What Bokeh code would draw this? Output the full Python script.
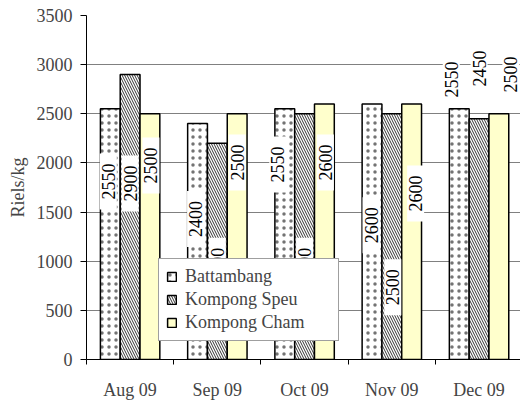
from math import pi
from bokeh.plotting import figure
from bokeh.models import (Range1d, FixedTicker, Legend, LegendItem, ColumnDataSource)
from bokeh.transform import dodge
from bokeh.core.properties import value
from bokeh.embed import file_html
from bokeh.resources import INLINE

# ---------------- data ----------------
months = ["Aug 09", "Sep 09", "Oct 09", "Nov 09", "Dec 09"]
series = ["Battambang", "Kompong Speu", "Kompong Cham"]
battambang = [2550, 2400, 2550, 2600, 2550]
kompong_speu = [2900, 2200, 2500, 2500, 2450]
kompong_cham = [2500, 2500, 2600, 2600, 2500]
y_ticks = [0, 500, 1000, 1500, 2000, 2500, 3000, 3500]

# placement of the (manually placed) value labels, in Riels/kg
label_at_battambang = [1810, 1430, 1985, 1365, 2850]
label_at_kompong_speu = [1790, 955, 955, 735, 2960]
label_at_kompong_cham = [1975, 2005, 2005, 1690, 2900]
# small horizontal nudges of the labels, screen px
nudge_battambang = [-2, -2, -7, -1, -8]
nudge_kompong_speu = [0, 0, 0, 1, 0]
nudge_kompong_cham = [1, 0, 1, 4, 12]

values = [battambang, kompong_speu, kompong_cham]
label_at = [label_at_battambang, label_at_kompong_speu, label_at_kompong_cham]
nudges = [nudge_battambang, nudge_kompong_speu, nudge_kompong_cham]

FONT = "Liberation Serif"
FS = "18px"

centers = [i + 0.5 for i in range(len(months))]
bounds = [float(i) for i in range(len(months) + 1)]

src_data = {"x": centers}
for k, s in enumerate(series):
    src_data[f"v{k}"] = values[k]
    src_data[f"t{k}"] = [str(v) for v in values[k]]
    src_data[f"l{k}"] = label_at[k]
    src_data[f"d{k}"] = nudges[k]
src = ColumnDataSource(src_data)

p = figure(width=520, height=403, output_backend="svg", toolbar_location=None,
           x_range=Range1d(0, 4.975), y_range=Range1d(0, 3500),
           min_border_left=86, min_border_right=0, min_border_top=15, min_border_bottom=44)
p.outline_line_color = None
p.background_fill_color = "white"
p.border_fill_color = "white"
p.xgrid.visible = False
p.ygrid.grid_line_color = "#808080"
p.ygrid.grid_line_width = 1
p.ygrid.ticker = FixedTicker(ticks=y_ticks)

BW = 0.227
offsets = [-BW, 0.0, BW]
styles = [
    dict(fill_color="white", hatch_pattern="dot", hatch_scale=7, hatch_weight=0.2,
         hatch_color="black", hatch_alpha=0.55),
    dict(fill_color="white", hatch_pattern="left_diagonal_line", hatch_scale=5, hatch_weight=1,
         hatch_color="#333333"),
    dict(fill_color="#FFFFCC"),
]

bars = []
for k, s in enumerate(series):
    r = p.vbar(x=dodge("x", offsets[k], range=p.x_range), top=f"v{k}", width=BW,
               source=src, line_color="black", line_width=1.5, **styles[k])
    bars.append(r)

for k, s in enumerate(series):
    p.text(x=dodge("x", offsets[k], range=p.x_range), y=f"l{k}", text=f"t{k}",
           x_offset=f"d{k}", angle=pi / 2, source=src,
           text_align="center", text_baseline="middle",
           text_font=value(FONT), text_font_size=FS, text_color="black",
           background_fill_color="white", padding=(10, 2))

# axes
ya = p.yaxis[0]
ya.ticker = FixedTicker(ticks=y_ticks)
ya.minor_tick_line_color = None
ya.major_tick_out = 6
ya.major_tick_in = 0
ya.major_label_standoff = 8
ya.axis_label = "Riels/kg"
ya.axis_label_standoff = 6
ya.axis_label_text_font = FONT
ya.axis_label_text_font_size = FS
ya.axis_label_text_font_style = "normal"
ya.major_label_text_font = FONT
ya.major_label_text_font_size = FS
ya.axis_line_color = "black"

xa = p.xaxis[0]
xa.ticker = FixedTicker(ticks=centers, minor_ticks=bounds)
xa.major_label_overrides = {c: m for c, m in zip(centers, months)}
xa.major_tick_line_color = None
xa.major_tick_out = 5
xa.major_tick_in = 0
xa.minor_tick_line_color = "black"
xa.minor_tick_out = 5
xa.minor_tick_in = 0
xa.major_label_standoff = 15
xa.major_label_text_font = FONT
xa.major_label_text_font_size = FS
xa.axis_line_color = "black"

legend = Legend(items=[LegendItem(label=s, renderers=[bars[k]]) for k, s in enumerate(series)],
                location=(72, 18), orientation="vertical",
                border_line_color="#404040", border_line_width=1.5,
                background_fill_color="white", background_fill_alpha=1.0,
                label_text_font=FONT, label_text_font_size=FS,
                glyph_width=11, glyph_height=11, label_standoff=8,
                label_height=21, label_width=146, spacing=2, padding=7, margin=0)
p.add_layout(legend)

open("out.html", "w").write(file_html(p, INLINE))
